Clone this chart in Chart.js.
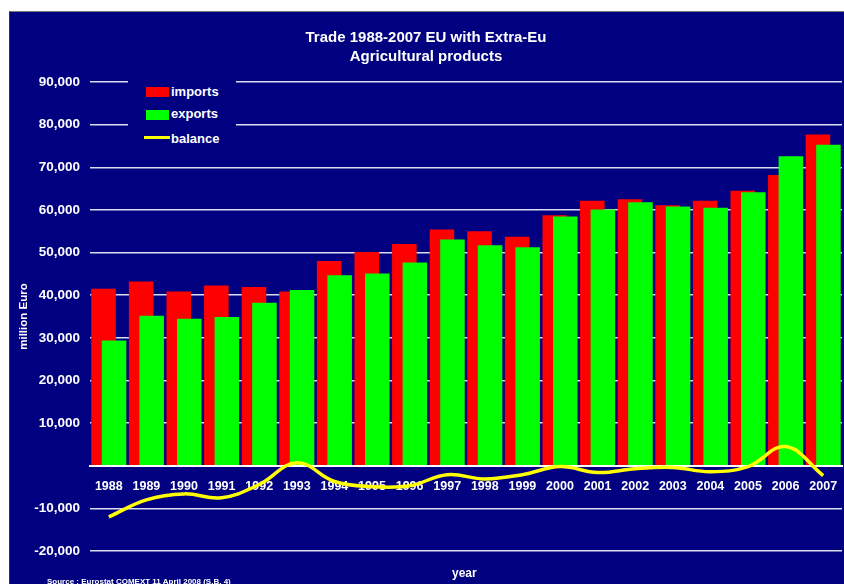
<!DOCTYPE html>
<html>
<head>
<meta charset="utf-8">
<script src="https://cdn.jsdelivr.net/npm/chart.js@4.4.1/dist/chart.umd.min.js"></script>
<style>
  body { margin:0; width:844px; height:584px; background:#fff; overflow:hidden; position:relative; font-family:"Liberation Sans", Arial, sans-serif; }
  .panel { position:absolute; left:9px; top:11px; width:835px; height:573px; box-sizing:border-box; background:#000080; border-left:1px solid #333; border-top:1px solid #777; }
  .box { position:absolute; left:0; top:0; width:834px; height:572px; }
  .legend { position:absolute; left:128px; top:76px; width:108px; height:76px; background:#000080; }
  .lbl { color:#fff; font-weight:bold; font-size:13px; line-height:14px; left:171px; }
  .note { position:absolute; color:#fff; font-weight:bold; }
</style>
</head>
<body>
<div class="panel">
  <div class="box"><canvas id="myChart"></canvas></div>
</div>
<div class="legend"></div>
<div style="position:absolute;left:146px;top:87px;width:23px;height:10px;background:#ff0000"></div>
<div class="lbl" style="position:absolute;top:85px">imports</div>
<div style="position:absolute;left:146px;top:110px;width:23px;height:10px;background:#00ff00"></div>
<div class="lbl" style="position:absolute;top:107px">exports</div>
<div style="position:absolute;left:144px;top:136px;width:26px;height:3px;background:#ffff00"></div>
<div class="lbl" style="position:absolute;top:132px">balance</div>
<div class="note" style="left:452px;top:566px;font-size:12px">year</div>
<div class="note" style="left:47px;top:577px;font-size:8px">Source : Eurostat COMEXT 11 April 2008 (S.B. 4)</div>
<script>
const ctx = document.getElementById("myChart");

const years = ["1988","1989","1990","1991","1992","1993","1994","1995","1996","1997",
  "1998","1999","2000","2001","2002","2003","2004","2005","2006","2007"];
const importsData = [41550, 43250, 40900, 42300, 41950, 40900, 48050, 50160, 52040, 55400,
  55000, 53700, 58750, 62140, 62500, 61100, 62140, 64500, 68200, 77700];
const exportsData = [29400, 35200, 34500, 34900, 38260, 41200, 44670, 45070, 47700, 53050,
  51700, 51250, 58450, 60100, 61800, 60800, 60500, 64150, 72600, 75300];
const balanceData = [-12000, -8000, -6600, -7500, -4400, 700, -3700, -4900, -4700, -2100,
  -3100, -2100, -200, -1600, -700, -400, -1400, -200, 4500, -2300];

// exports bars sit on top of the imports bars
const importsBehind = {
  id: "importsBehind",
  beforeDatasetDraw(chart, args) {
    if (args.index === 0) return false;
    if (args.index === 1) chart.getDatasetMeta(0).controller.draw();
  }
};

const fontFam = "'Liberation Sans', Arial, sans-serif";

let chart = new Chart(ctx, {
  type: "bar",
  data: {
    labels: years,
    datasets: [{
      label: "imports",
      data: importsData,
      backgroundColor: "#ff0000",
      borderWidth: 0,
      categoryPercentage: 0.56,
      barPercentage: 2.33
    }, {
      label: "exports",
      data: exportsData,
      backgroundColor: "#00ff00",
      borderWidth: 0,
      categoryPercentage: 0.56,
      barPercentage: 2.33
    }, {
      type: "line",
      label: "balance",
      data: balanceData,
      borderColor: "#ffff00",
      borderWidth: 3.5,
      pointRadius: 0,
      tension: 0.4,
      fill: false,
      order: -1
    }]
  },
  options: {
    responsive: true,
    maintainAspectRatio: false,
    animation: false,
    layout: { padding: { left: 0, right: 2, top: 0, bottom: 33 } },
    plugins: {
      legend: { display: false },
      tooltip: { enabled: false },
      title: {
        display: true,
        text: ["Trade 1988-2007 EU with Extra-Eu", "Agricultural products"],
        color: "#fff",
        font: { family: fontFam, size: 15, weight: "bold", lineHeight: 1.27 },
        padding: { top: 16, bottom: 16 }
      }
    },
    scales: {
      x: {
        position: { y: 0 },
        afterFit: (scale) => { scale.paddingLeft = 0; scale.paddingRight = 0; },
        grid: { display: false, drawTicks: false },
        border: { display: true, color: "#ffffff", width: 2 },
        ticks: { color: "#fff", padding: 13, font: { family: fontFam, size: 12.5, weight: "bold" } }
      },
      y: {
        min: -20000,
        max: 90000,
        afterFit: (scale) => { scale.width = 80; },
        grid: { color: "#dcdcf0", lineWidth: 1.5, drawTicks: false },
        border: { display: false },
        ticks: {
          stepSize: 10000,
          padding: 10,
          color: "#fff",
          font: { family: fontFam, size: 13.5, weight: "bold" },
          callback: (v) => v === 0 ? "" : v.toLocaleString("en-US")
        },
        title: {
          display: true,
          text: "million Euro",
          color: "#fff",
          font: { family: fontFam, size: 11.5, weight: "bold" },
          padding: { top: 7, bottom: 0 }
        }
      }
    }
  },
  plugins: [importsBehind]
});
</script>
</body>
</html>
